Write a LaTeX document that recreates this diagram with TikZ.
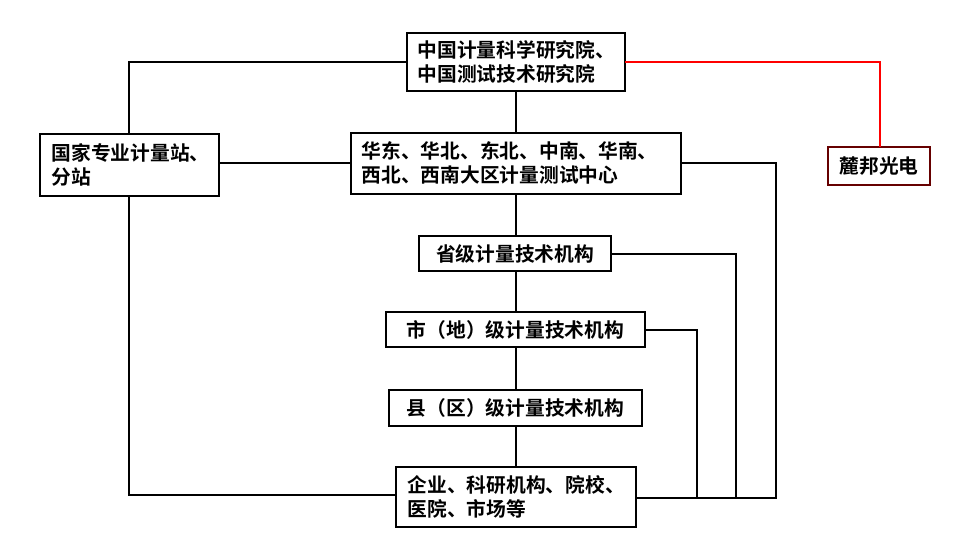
\documentclass[tikz,border=0pt]{standalone}
\usepackage{fontspec}
\setmainfont{Noto Sans CJK SC}[BoldFont={Noto Sans CJK SC Bold}]
\begin{document}
\begin{tikzpicture}[x=0.75pt,y=-0.75pt,
 box/.style={draw,line width=1.2pt,inner sep=0pt},
 t/.style={font=\fontsize{14.8pt}{18pt}\selectfont\bfseries,align=left},
 ln/.style={line width=1.2pt}]
\useasboundingbox (0,0) rectangle (967,548);
\draw[box] (407,33) rectangle (625,91); \node[t,anchor=west] (top) at (413,62) {中国计量科学研究院、\\中国测试技术研究院};
\draw[box] (40,134) rectangle (219,196); \node[t,anchor=west] (lft) at (47,165) {国家专业计量站、\\分站};
\draw[box] (351,133) rectangle (681,194); \node[t,anchor=west] (reg) at (357,163) {华东、华北、东北、中南、华南、\\西北、西南大区计量测试中心};
\draw[box,red!40!black] (828,147) rectangle (930,185); \node[t,anchor=center] (lb) at (879,166) {麓邦光电};
\draw[box] (419,236) rectangle (611,271); \node[t] (prov) at (515,253.5) {省级计量技术机构};
\draw[box] (386,312) rectangle (645,347); \node[t] (city) at (515.5,329.5) {市（地）级计量技术机构};
\draw[box] (389,390) rectangle (642,426); \node[t] (cty) at (515.5,408) {县（区）级计量技术机构};
\draw[box] (396,467) rectangle (636,527); \node[t,anchor=west] (ent) at (403,497) {企业、科研机构、院校、\\医院、市场等};
\draw[ln,red] (625,62) -- (880,62) -- (880,147);
\draw[ln] (516,91) -- (516,133);
\draw[ln] (407,62) -- (129,62) -- (129,134);
\draw[ln] (219,163) -- (351,163);
\draw[ln] (129,196) -- (129,495) -- (396,495);
\draw[ln] (516,194) -- (516,236);
\draw[ln] (516,271) -- (516,312);
\draw[ln] (516,347) -- (516,390);
\draw[ln] (516,426) -- (516,467);
\draw[ln] (681,163) -- (776,163) -- (776,498) -- (636,498);
\draw[ln] (611,254) -- (736,254) -- (736,498);
\draw[ln] (645,330) -- (697,330) -- (697,498);
\end{tikzpicture}
\end{document}
